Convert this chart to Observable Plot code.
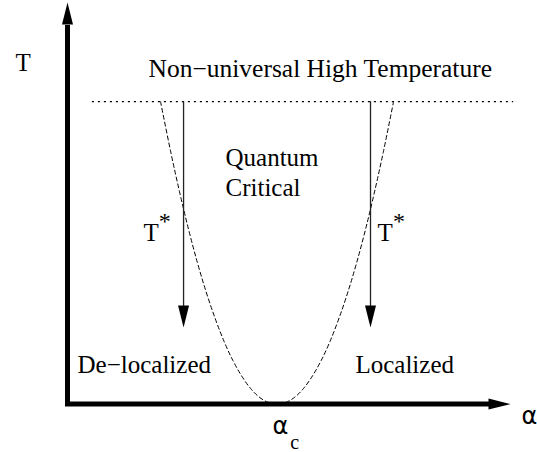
<!DOCTYPE html>
<html><head><meta charset="utf-8">
<script src="https://cdn.jsdelivr.net/npm/d3@7"></script>
<script src="https://cdn.jsdelivr.net/npm/@observablehq/plot@0.6"></script>
<style>body{margin:0;background:#fff}</style>
</head><body><div id="chart"></div>
<script>
// Crossover (dashed) curve: alpha vs T
const curveAlpha = [21.0, 23.3, 25.3, 27.3, 29.3, 31.3, 33.3, 35.3, 37.3, 39.3, 41.3, 43.3, 45.3, 47.3,
                    49.3, 51.3, 53.3, 55.3, 57.3, 59.3, 61.3, 63.3, 65.3, 67.3, 69.3, 71.3, 73.6];
const curveT =     [75.3, 62.8, 52.8, 43.6, 35.3, 27.9, 21.4, 15.7, 10.9, 7.0, 3.9, 1.7, 0.4, 0,
                    0.4, 1.7, 3.9, 7.0, 10.9, 15.7, 21.4, 27.9, 35.3, 43.6, 52.8, 62.8, 75.3];
// Non-universal high temperature boundary (dotted)
const highTAlpha = [5.6, 100.5];
const highT = 75.3;
// T* arrows
const arrowAlpha = [26.2, 68.4];
const arrowFromT = 75.3;
const arrowShaftEndT = 23.3;
const arrowTipT = 19.05;
// Axes
const axisAlphaStart = -0.45, axisAlphaEnd = 95.5, axisAlphaTip = 100;
const axisTStart = -0.4, axisTEnd = 94.3, axisTTip = 100;
// Labels
const labelText  = ["T", "Non\u2212universal High Temperature", "Quantum", "Critical", "T", "T", "De\u2212localized", "Localized", "\u03b1", "\u03b1"];
const labelAlpha = [-11.74, 18.28, 35.67, 35.67, 17.16, 69.98, 2.26, 65.0, 102.5, 46.3];
const labelT     = [83.06, 81.4, 59.4, 51.9, 40.7, 40.7, 7.6, 7.6, -4.86, -7.35];
const labelSize  = [25, 25.5, 25, 25, 25, 25, 25, 25, 24, 24];
const labelFont  = ["Liberation Serif","Liberation Serif","Liberation Serif","Liberation Serif","Liberation Serif","Liberation Serif","Liberation Serif","Liberation Serif","DejaVu Sans","DejaVu Sans"];
const starAlpha = [20.6, 73.5];
const starT = [43.6, 43.6];
const subText = ["c"];
const subAlpha = [50.3];
const subT = [-11.1];

const curve = curveAlpha.map((a, i) => ({a, t: curveT[i]}));
const labels = labelText.map((s, i) => ({s, a: labelAlpha[i], t: labelT[i], size: labelSize[i], font: labelFont[i]}));
const stars = starAlpha.map((a, i) => ({a, t: starT[i]}));
const subs = subText.map((s, i) => ({s, a: subAlpha[i], t: subT[i]}));

const head = {draw(ctx, size) {
  const r = Math.sqrt(size / Math.PI);
  ctx.moveTo(0, 0); ctx.lineTo(r, 4 * r); ctx.lineTo(-r, 4 * r); ctx.closePath();
}};

const textMarks = labels.map(d => Plot.text([d], {x: "a", y: "t", text: "s", textAnchor: "start", lineAnchor: "bottom",
  fontSize: d.size, fontFamily: d.font, fill: "black"}));

const chart = Plot.plot({
  width: 537, height: 452,
  marginLeft: 67, marginRight: 27, marginTop: 2, marginBottom: 48.5,
  x: {axis: null, domain: [0, 100]},
  y: {axis: null, domain: [0, 100]},
  style: {background: "white", overflow: "visible"},
  marks: [
    Plot.line(highTAlpha.map(a => ({a, t: highT})), {x: "a", y: "t", stroke: "black", strokeWidth: 1.1, strokeDasharray: "1.2,4.8"}),
    Plot.line(curve, {x: "a", y: "t", curve: "catmull-rom", stroke: "black", strokeWidth: 1, strokeDasharray: "4,3"}),
    Plot.ruleX(arrowAlpha, {y1: arrowFromT, y2: arrowShaftEndT, stroke: "#222", strokeWidth: 1.3}),
    Plot.dot(arrowAlpha.map(a => ({a, t: arrowTipT})), {x: "a", y: "t", symbol: head, r: 5.5, fill: "black", stroke: null, rotate: 180}),
    Plot.ruleY([0], {x1: axisAlphaStart, x2: axisAlphaEnd, stroke: "black", strokeWidth: 5}),
    Plot.ruleX([0], {y1: axisTStart, y2: axisTEnd, stroke: "black", strokeWidth: 5}),
    Plot.dot([{a: axisAlphaTip, t: 0}], {x: "a", y: "t", symbol: head, r: 5.5, fill: "black", stroke: null, rotate: 90}),
    Plot.dot([{a: 0, t: axisTTip}], {x: "a", y: "t", symbol: head, r: 5.5, fill: "black", stroke: null, rotate: 0}),
    ...textMarks,
    Plot.text(stars, {x: "a", y: "t", text: () => "*", textAnchor: "start", lineAnchor: "bottom", fontSize: 24, fontFamily: "Liberation Serif", fill: "black"}),
    Plot.text(subs, {x: "a", y: "t", text: "s", textAnchor: "start", lineAnchor: "bottom", fontSize: 20, fontFamily: "Liberation Serif", fill: "black"})
  ]
});
document.getElementById("chart").appendChild(chart);
</script>
</body></html>
